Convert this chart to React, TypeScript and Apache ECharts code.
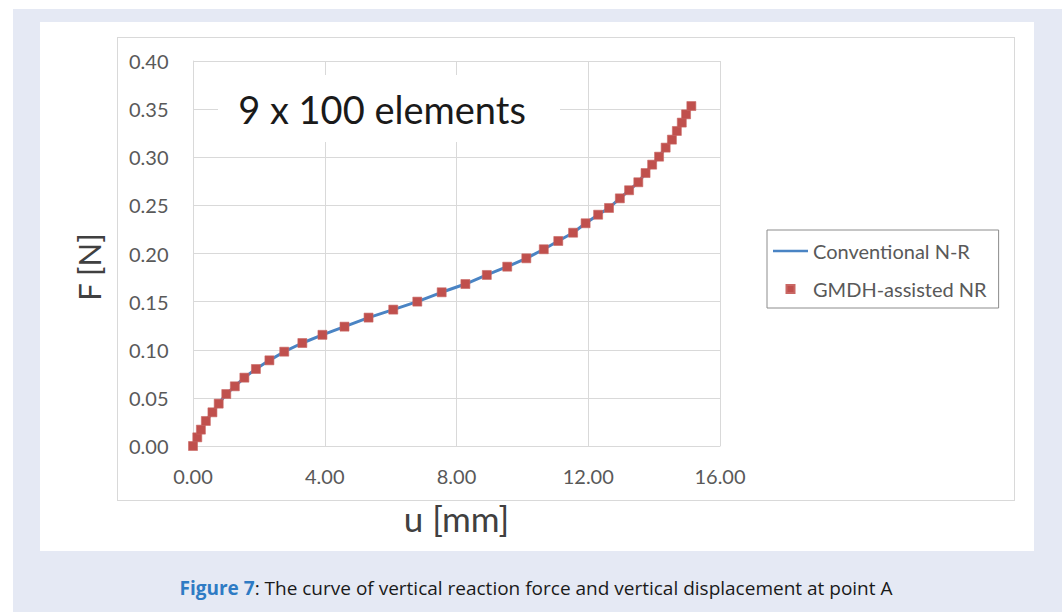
import React, { useEffect, useRef } from "react";
import * as echarts from "echarts";

// displacement u [mm]
const uValues = [
  0, 0.13, 0.24, 0.39, 0.59, 0.78, 1.01, 1.27, 1.56, 1.91, 2.32, 2.77, 3.32,
  3.93, 4.6, 5.33, 6.08, 6.81, 7.55, 8.27, 8.92, 9.54, 10.12, 10.65, 11.09,
  11.54, 11.92, 12.3, 12.63, 12.96, 13.24, 13.52, 13.74, 13.94, 14.15, 14.35,
  14.54, 14.69, 14.84, 14.97, 15.13,
];
// reaction force F [N]
const fValues = [
  0, 0.009, 0.017, 0.026, 0.035, 0.044, 0.054, 0.062, 0.071, 0.08, 0.089,
  0.098, 0.107, 0.1155, 0.124, 0.1334, 0.1417, 0.15, 0.1597, 0.1683, 0.1777,
  0.1863, 0.195, 0.2044, 0.213, 0.2216, 0.2314, 0.2403, 0.2473, 0.2573,
  0.2657, 0.274, 0.2836, 0.2923, 0.3006, 0.31, 0.3183, 0.3273, 0.336, 0.3446,
  0.3532,
];
const seriesNames = ["Conventional N-R", "GMDH-assisted NR"];
const xTicks = { min: 0, max: 16, interval: 4 };
const yTicks = { min: 0, max: 0.4, interval: 0.05 };
const xTitle = "u [mm]";
const yTitle = "F [N]";
const annotation = "9 x 100 elements";
const captionLabel = "Figure 7";
const captionText = ": The curve of vertical reaction force and vertical displacement at point A";

export default function App() {
  const ref = useRef<HTMLDivElement>(null);
  useEffect(() => {
    if (!ref.current) return;
    const chart = echarts.init(ref.current, null, { renderer: "svg" });
    const data = uValues.map((u, i) => [u, fValues[i]]);
    const font = "Lato";
    const lineColor = "#4a84c4";
    const markColor = "#c0504d";
    chart.setOption({
      animation: false,
      textStyle: { fontFamily: font },
      grid: { left: 193, right: 342, top: 61, bottom: 166, containLabel: false },
      xAxis: {
        type: "value",
        min: xTicks.min,
        max: xTicks.max,
        interval: xTicks.interval,
        name: xTitle,
        nameLocation: "middle",
        nameGap: 54,
        nameTextStyle: { fontSize: 35, color: "#404040", fontFamily: font },
        axisLine: { show: true, lineStyle: { color: "#d9d9d9", width: 1 } },
        axisTick: { show: false },
        axisLabel: {
          formatter: (v: number) => v.toFixed(2),
          color: "#595959",
          fontSize: 20,
          margin: 20,
          fontFamily: font,
        },
        splitLine: { show: true, lineStyle: { color: "#d9d9d9", width: 1 } },
      },
      yAxis: {
        type: "value",
        min: yTicks.min,
        max: yTicks.max,
        interval: yTicks.interval,
        axisLine: { show: true, lineStyle: { color: "#d9d9d9", width: 1 } },
        axisTick: { show: false },
        axisLabel: {
          formatter: (v: number) => v.toFixed(2),
          color: "#595959",
          fontSize: 20,
          align: "left",
          margin: 64,
          fontFamily: font,
        },
        splitLine: { show: true, lineStyle: { color: "#d9d9d9", width: 1 } },
      },
      legend: {
        orient: "vertical",
        left: 767,
        top: 230,
        padding: [11, 12, 9, 6],
        itemWidth: 35,
        itemHeight: 8,
        itemGap: 18,
        borderColor: "#8c8c8c",
        borderWidth: 1,
        textStyle: { fontSize: 20, color: "#595959", lineHeight: 20, fontFamily: font },
        data: [
          { name: seriesNames[0], icon: "path://M0,0h35v2.5h-35z" },
          { name: seriesNames[1], icon: "path://M0,0h1v1h-1z" },
        ],
      },
      series: [
        {
          name: seriesNames[0],
          type: "line",
          data,
          symbol: "none",
          lineStyle: { color: lineColor, width: 3 },
          itemStyle: { color: lineColor },
          z: 2,
        },
        {
          name: seriesNames[1],
          type: "scatter",
          data,
          symbol: "rect",
          symbolSize: 9,
          itemStyle: { color: markColor, opacity: 1, borderColor: "#c96663", borderWidth: 0.6 },
          z: 3,
        },
      ],
      graphic: [
        {
          type: "rect",
          shape: { x: 218, y: 75, width: 342, height: 67 },
          style: { fill: "#ffffff" },
          z: 10,
        },
        {
          type: "text",
          x: 382,
          y: 109,
          style: {
            text: annotation,
            fontSize: 38,
            fontFamily: font,
            fill: "#1a1a1a",
            align: "center",
            verticalAlign: "middle",
          },
          z: 11,
        },
        {
          type: "text",
          x: 89,
          y: 267,
          rotation: Math.PI / 2,
          style: {
            text: yTitle,
            fontSize: 31,
            fontFamily: font,
            fill: "#404040",
            align: "center",
            verticalAlign: "middle",
          },
          z: 11,
        },
        {
          type: "text",
          x: 536,
          y: 588,
          style: {
            text: `{a|${captionLabel}}{b|${captionText}}`,
            align: "center",
            verticalAlign: "middle",
            rich: {
              a: { fontSize: 19, fontWeight: "bold", fill: "#2e7bc4", fontFamily: "Open Sans" },
              b: { fontSize: 19, fill: "#1a1a1a", fontFamily: "Open Sans" },
            },
          },
          z: 11,
        },
      ],
    });
    return () => chart.dispose();
  }, []);

  return (
    <div style={{ position: "fixed", left: 0, top: 0, width: 1062, height: 612, background: "#e5e9f4" }}>
      <div style={{ position: "absolute", left: 0, top: 0, width: 13, height: 612, background: "#ffffff" }} />
      <div style={{ position: "absolute", left: 0, top: 0, width: 1062, height: 9, background: "#ffffff" }} />
      <div style={{ position: "absolute", left: 40, top: 22, width: 994, height: 529, background: "#ffffff" }} />
      <div
        style={{
          position: "absolute",
          left: 117,
          top: 37,
          width: 898,
          height: 464,
          border: "1px solid #d9d9d9",
          boxSizing: "border-box",
        }}
      />
      <div ref={ref} style={{ position: "absolute", left: 0, top: 0, width: 1062, height: 612 }} />
    </div>
  );
}
